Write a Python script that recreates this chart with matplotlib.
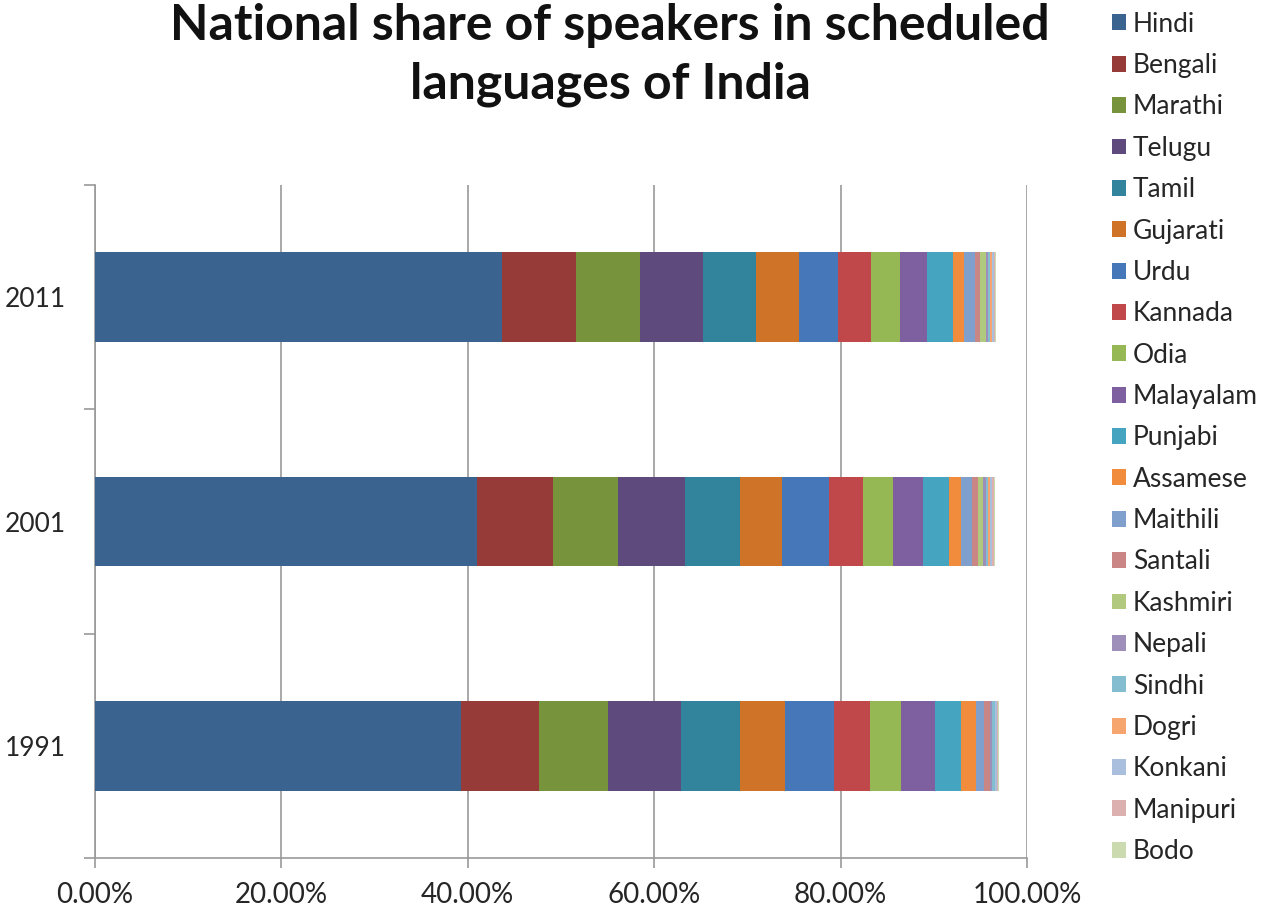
import numpy as np
import matplotlib.pyplot as plt
from matplotlib.ticker import PercentFormatter, FixedLocator

plt.rcParams['font.family'] = ['Lato', 'DejaVu Sans']

years = ['1991', '2001', '2011']

languages = ['Hindi', 'Bengali', 'Marathi', 'Telugu', 'Tamil', 'Gujarati', 'Urdu',
             'Kannada', 'Odia', 'Malayalam', 'Punjabi', 'Assamese', 'Maithili',
             'Santali', 'Kashmiri', 'Nepali', 'Sindhi', 'Dogri', 'Konkani',
             'Manipuri', 'Bodo']

# share of speakers (%), one list per language: 1991, 2001, 2011
hindi     = [39.29, 41.03, 43.63]
bengali   = [8.30, 8.11, 8.03]
marathi   = [7.45, 6.99, 6.86]
telugu    = [7.87, 7.19, 6.70]
tamil     = [6.32, 5.91, 5.70]
gujarati  = [4.85, 4.48, 4.58]
urdu      = [5.18, 5.01, 4.19]
kannada   = [3.91, 3.69, 3.61]
odia      = [3.35, 3.21, 3.10]
malayalam = [3.62, 3.21, 2.88]
punjabi   = [2.79, 2.83, 2.74]
assamese  = [1.56, 1.28, 1.26]
maithili  = [0.92, 1.18, 1.12]
santali   = [0.62, 0.63, 0.61]
kashmiri  = [0.00, 0.54, 0.56]
nepali    = [0.25, 0.28, 0.24]
sindhi    = [0.25, 0.25, 0.23]
dogri     = [0.00, 0.22, 0.21]
konkani   = [0.21, 0.24, 0.19]
manipuri  = [0.15, 0.14, 0.15]
bodo      = [0.14, 0.13, 0.12]

shares = [hindi, bengali, marathi, telugu, tamil, gujarati, urdu, kannada, odia,
          malayalam, punjabi, assamese, maithili, santali, kashmiri, nepali,
          sindhi, dogri, konkani, manipuri, bodo]

colors = ['#3A6390', '#963B38', '#77933C', '#5F4A7D', '#31849B', '#CE7328',
          '#4677B8', '#C0474A', '#96B854', '#7E5FA0', '#45A5C0', '#F08C3C',
          '#7F9FCC', '#C98684', '#B0C97E', '#9E8EBA', '#84BDD0', '#F6A56E',
          '#A9BFDD', '#DDB0B0', '#CCDBAF']

fig = plt.figure(figsize=(12.76, 9.11), dpi=100)
ax = fig.add_axes([95 / 1276, 1 - 858 / 911, (1027 - 95) / 1276, (858 - 185) / 911])

y = np.arange(len(years)) + 0.5
left = np.zeros(len(years))
handles = []
for name, vals, c in zip(languages, shares, colors):
    b = ax.barh(y, vals, left=left, height=0.4, color=c, linewidth=0, label=name, zorder=3)
    handles.append(b)
    left += np.array(vals)

ax.set_xlim(0, 100)
ax.set_ylim(0, 3)
ax.set_xticks([0, 20, 40, 60, 80, 100])
ax.xaxis.set_major_formatter(PercentFormatter(xmax=100, decimals=2))
ax.set_yticks(y)
ax.set_yticklabels(years)
ax.yaxis.set_minor_locator(FixedLocator([0, 1, 2, 3]))
ax.tick_params(axis='y', which='major', length=0, pad=21, labelsize=19, labelcolor='#262626')
ax.tick_params(axis='y', which='minor', length=8, color='#999999', width=1.2)
ax.tick_params(axis='x', length=7, color='#999999', width=1.2, pad=10, labelsize=20,
               labelcolor='#262626')
ax.grid(axis='x', color='#999999', linewidth=1.2, zorder=0)

for s in ['top', 'right']:
    ax.spines[s].set_visible(False)
for s in ['left', 'bottom']:
    ax.spines[s].set_color('#999999')
    ax.spines[s].set_linewidth(1.2)

fig.text(610 / 1276, 1 - 55 / 911, 'National share of speakers in scheduled\nlanguages of India',
         ha='center', va='center', fontsize=36, fontweight='bold', color='#111111',
         linespacing=1.35)

fig.legend(handles, languages, loc='upper left', bbox_to_anchor=(1088 / 1276, 1 + 12 / 911),
           frameon=False, fontsize=19, handlelength=0.55, handleheight=0.55,
           handletextpad=0.25, labelspacing=0.62, labelcolor='#262626')

fig.savefig('out.png', dpi=100)
